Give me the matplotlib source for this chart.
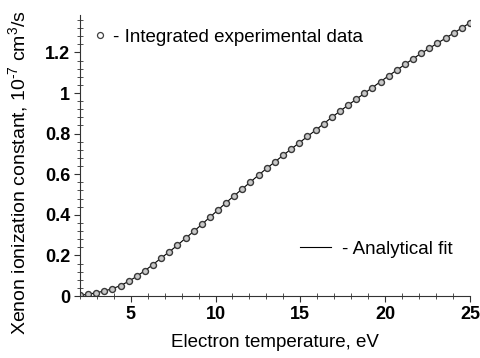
import numpy as np
import matplotlib
matplotlib.use('Agg')
import matplotlib.pyplot as plt
from matplotlib.lines import Line2D
from matplotlib.ticker import MultipleLocator

plt.rcParams['font.family'] = ['Liberation Sans', 'DejaVu Sans']
plt.rcParams['mathtext.fontset'] = 'custom'
plt.rcParams['mathtext.rm'] = 'Liberation Sans'
plt.rcParams['mathtext.it'] = 'Liberation Sans:italic'
plt.rcParams['mathtext.bf'] = 'Liberation Sans:bold'

# electron temperature, eV
Te = [2.00, 2.48, 2.96, 3.44, 3.92, 4.40, 4.87, 5.35, 5.83, 6.31,
      6.79, 7.27, 7.75, 8.23, 8.71, 9.19, 9.67, 10.15, 10.62, 11.10,
      11.58, 12.06, 12.54, 13.02, 13.50, 13.98, 14.46, 14.94, 15.42, 15.90,
      16.37, 16.85, 17.33, 17.81, 18.29, 18.77, 19.25, 19.73, 20.21, 20.69,
      21.17, 21.65, 22.12, 22.60, 23.08, 23.56, 24.04, 24.52, 25.00]

# ionization constant, 1e-7 cm^3/s
K = [0.004, 0.009, 0.016, 0.025, 0.036, 0.052, 0.072, 0.097, 0.125, 0.155,
     0.187, 0.218, 0.250, 0.285, 0.318, 0.353, 0.389, 0.424, 0.460, 0.494,
     0.528, 0.562, 0.596, 0.629, 0.661, 0.693, 0.724, 0.755, 0.786, 0.817,
     0.848, 0.880, 0.910, 0.940, 0.969, 0.998, 1.027, 1.056, 1.085, 1.113,
     1.141, 1.169, 1.195, 1.220, 1.245, 1.270, 1.295, 1.320, 1.346]

fs = 13.5

fig = plt.figure(figsize=(4.81, 3.58), dpi=100)
ax = fig.add_axes([0.166, 0.173, 0.811, 0.785])

# analytical fit (line) and experimental points (circles)
ax.plot(Te, K, color='black', linewidth=0.8)
ax.plot(Te, K, linestyle='none', marker='o', markersize=4.3,
        markerfacecolor='#c8c8c8', markeredgecolor='#383838', markeredgewidth=1.0)

ax.set_xlim(2, 25)
ax.set_ylim(0, 1.384)
ax.set_xticks([5, 10, 15, 20, 25])
ax.set_yticks([0, 0.2, 0.4, 0.6, 0.8, 1.0, 1.2])
ax.set_yticklabels(['0', '0.2', '0.4', '0.6', '0.8', '1', '1.2'])
ax.xaxis.set_minor_locator(MultipleLocator(1))
ax.yaxis.set_minor_locator(MultipleLocator(0.04))

for s in ['top', 'right']:
    ax.spines[s].set_visible(False)
for s in ['left', 'bottom']:
    ax.spines[s].set_color('#333333')

ax.tick_params(which='major', direction='out', length=4, width=0.8,
               color='#333333', labelsize=13, pad=3)
ax.tick_params(which='minor', direction='inout', length=4, width=0.6, color='#333333')
for lab in ax.get_xticklabels() + ax.get_yticklabels():
    lab.set_fontweight('bold')

ax.set_xlabel('Electron temperature, eV', fontsize=fs, labelpad=8)
ax.set_ylabel('Xenon ionization constant, 10$^{\\text{-}7}$ cm$^3$/s', fontsize=14)
ax.yaxis.set_label_coords(-0.128, 0.44)

h1 = Line2D([], [], linestyle='none', marker='o', markersize=4.3,
            markerfacecolor='white', markeredgecolor='#404040', markeredgewidth=0.9)
leg1 = ax.legend([h1], ['- Integrated experimental data'], loc='center left',
                 bbox_to_anchor=(0.039, 0.922), frameon=False, fontsize=fs,
                 borderpad=0, borderaxespad=0, handlelength=0.5, handletextpad=0.44)
ax.add_artist(leg1)
h2 = Line2D([], [], color='black', linewidth=0.8)
ax.legend([h2], ['- Analytical fit'], loc='center left',
          bbox_to_anchor=(0.564, 0.167), frameon=False, fontsize=fs,
          borderpad=0, borderaxespad=0, handlelength=1.65, handletextpad=0.59)

fig.savefig('out.png', dpi=100)
